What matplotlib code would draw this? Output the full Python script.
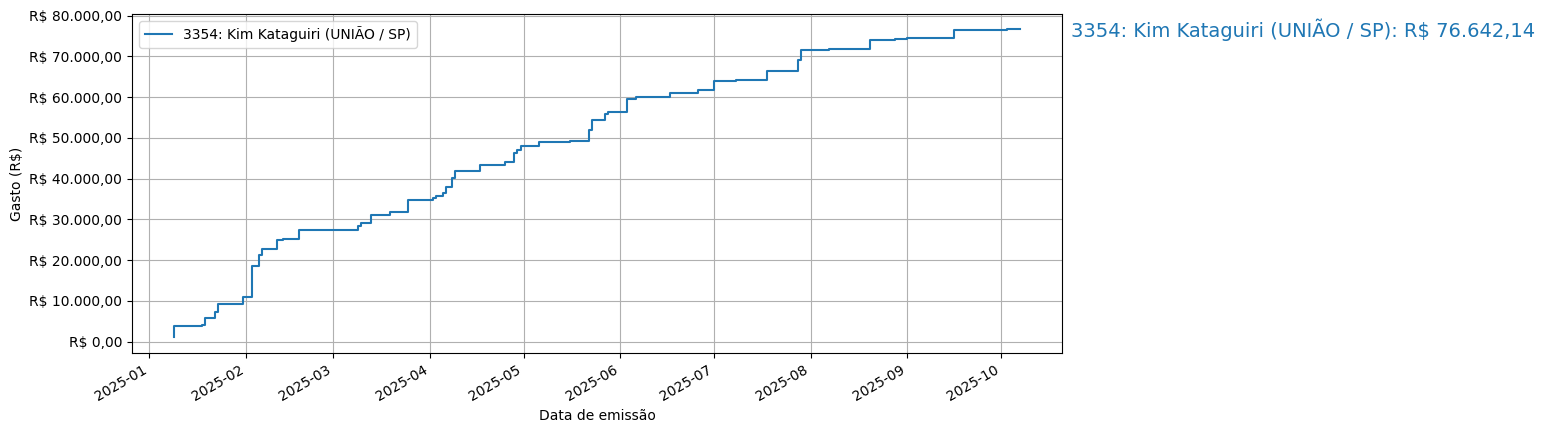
import numpy as np
import pandas as pd
import matplotlib
matplotlib.use("Agg")
import matplotlib.pyplot as plt
import matplotlib.dates as mdates
from matplotlib.ticker import FuncFormatter

deputado = "3354: Kim Kataguiri (UNIÃO / SP)"

datas = [
    "2025-01-09", "2025-01-09", "2025-01-18", "2025-01-19", "2025-01-22",
    "2025-01-23", "2025-01-31", "2025-02-03", "2025-02-05", "2025-02-06",
    "2025-02-11", "2025-02-13", "2025-02-18", "2025-03-09", "2025-03-10",
    "2025-03-13", "2025-03-19", "2025-03-25", "2025-04-02", "2025-04-03",
    "2025-04-05", "2025-04-06", "2025-04-08", "2025-04-09", "2025-04-17",
    "2025-04-25", "2025-04-28", "2025-04-29", "2025-04-30", "2025-05-06",
    "2025-05-16", "2025-05-22", "2025-05-23", "2025-05-27", "2025-05-28",
    "2025-06-03", "2025-06-06", "2025-06-17", "2025-06-26", "2025-07-01",
    "2025-07-08", "2025-07-18", "2025-07-28", "2025-07-29", "2025-08-07",
    "2025-08-20", "2025-08-28", "2025-09-01", "2025-09-16", "2025-10-03",
    "2025-10-07",
]
gasto_acumulado = [
    1050, 3750, 4100, 5800, 7400,
    9150, 11100, 18500, 21400, 22800,
    25000, 25300, 27500, 28450, 29050,
    31000, 31750, 34770, 35170, 35650,
    36400, 37870, 40070, 41790, 43260,
    44000, 46200, 46950, 47930, 48900,
    49150, 52020, 54310, 55880, 56270,
    59630, 59950, 60930, 61670, 63880,
    64120, 66330, 69200, 71490, 71720,
    74030, 74190, 74420, 76450, 76642.14,
    76642.14,
]


def brl(v, pos=None):
    s = f"{v:,.2f}".replace(",", "X").replace(".", ",").replace("X", ".")
    return f"R$ {s}"


x = pd.to_datetime(datas)
y = np.array(gasto_acumulado)

fig, ax = plt.subplots(figsize=(15.44, 4.33), dpi=100)
linha, = ax.step(x, y, where="post", label=deputado)

ax.annotate(f"{deputado}: {brl(y[-1])}", xy=(1.01, y[-1]),
            xycoords=ax.get_yaxis_transform(), va="center", ha="left",
            fontsize=14, color=linha.get_color(), annotation_clip=False)

ax.xaxis.set_major_locator(mdates.MonthLocator())
ax.xaxis.set_major_formatter(mdates.DateFormatter("%Y-%m"))
ax.yaxis.set_major_formatter(FuncFormatter(brl))
ax.set_xlabel("Data de emissão")
ax.set_ylabel("Gasto (R$)")
ax.grid(True)
ax.legend(loc="upper left")
fig.autofmt_xdate()
fig.subplots_adjust(left=0.0855, right=0.6878, top=0.968, bottom=0.185)
fig.savefig("out.png", dpi=100)
